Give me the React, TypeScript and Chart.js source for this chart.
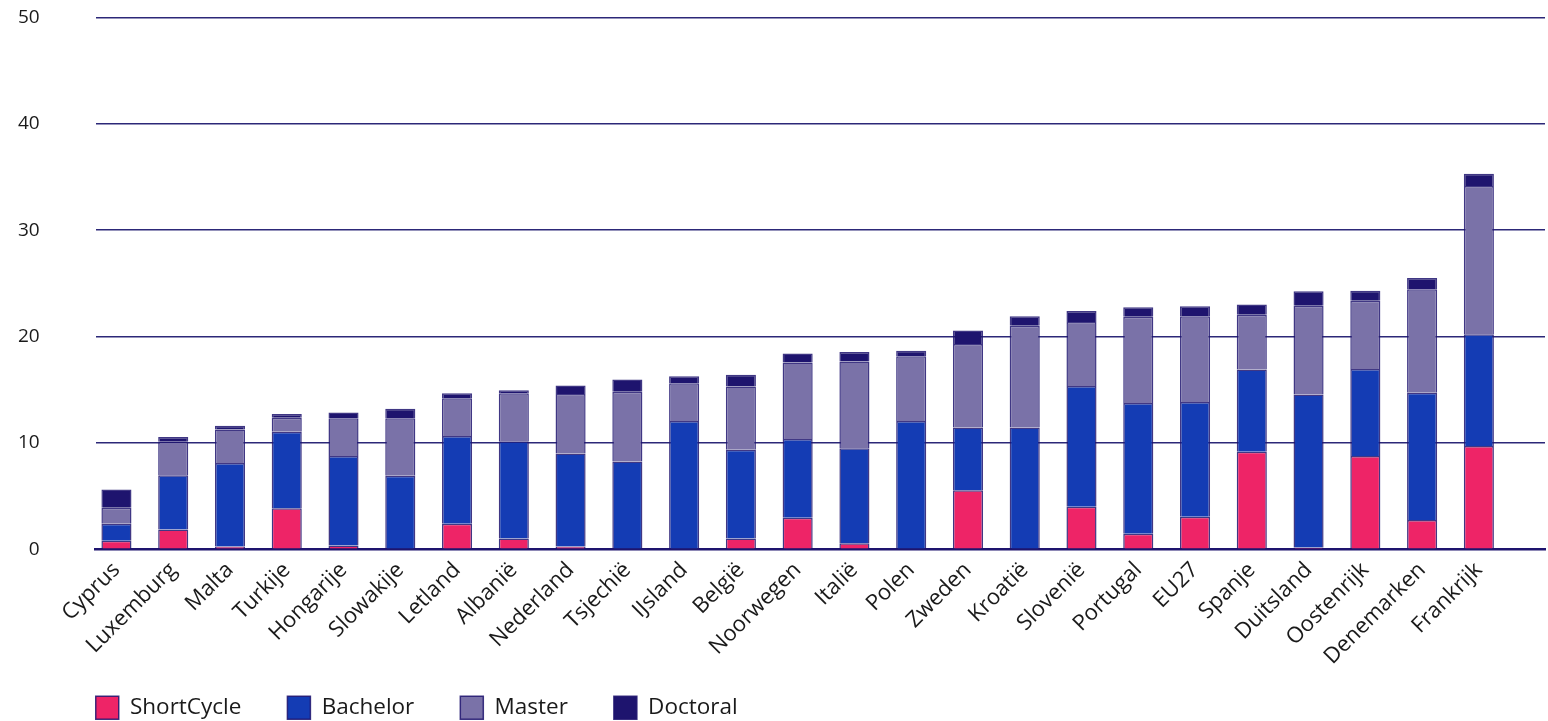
import React, { useEffect, useRef } from "react";
import { Chart, registerables } from "chart.js";

Chart.register(...registerables);

const categories = [
  "Cyprus", "Luxemburg", "Malta", "Turkije", "Hongarije", "Slowakije", "Letland",
  "Albanië", "Nederland", "Tsjechië", "IJsland", "België", "Noorwegen", "Italië",
  "Polen", "Zweden", "Kroatië", "Slovenië", "Portugal", "EU27", "Spanje",
  "Duitsland", "Oostenrijk", "Denemarken", "Frankrijk",
];

const shortCycle = [0.8, 1.85, 0.25, 3.85, 0.35, 0, 2.4, 1.0, 0.25, 0, 0, 1.0, 2.95, 0.55, 0, 5.55, 0, 4.0, 1.45, 3.05, 9.15, 0.15, 8.75, 2.75, 9.7];
const bachelor = [1.6, 5.1, 7.85, 7.2, 8.4, 6.9, 8.25, 9.15, 8.75, 8.25, 12.05, 8.35, 7.4, 8.95, 12.05, 5.9, 11.45, 11.35, 12.3, 10.8, 7.75, 14.4, 8.2, 11.95, 10.5];
const master = [1.5, 3.15, 3.15, 1.3, 3.55, 5.4, 3.55, 4.5, 5.6, 6.55, 3.55, 5.95, 7.2, 8.15, 6.1, 7.85, 9.55, 6.0, 8.1, 8.05, 5.15, 8.35, 6.4, 9.75, 13.95];
const doctoral = [1.7, 0.45, 0.35, 0.35, 0.55, 0.9, 0.45, 0.3, 0.8, 1.15, 0.65, 1.1, 0.85, 0.9, 0.5, 1.25, 0.9, 1.05, 0.9, 0.95, 0.95, 1.35, 0.95, 1.05, 1.15];

const yTicks = [0, 10, 20, 30, 40, 50];

const FONT = "'Open Sans', sans-serif";

// Puts the legend's first box under the plot's left edge and sets its gap below the axis.
const legendPlacement = {
  id: "legendPlacement",
  afterLayout(chart: any) {
    const lg = chart.legend;
    if (!lg) return;
    const pad = lg.options.labels.padding;
    lg.left = chart.chartArea.left - pad;
    lg.top = chart.chartArea.bottom + 101;
  },
};

export default function App() {
  const ref = useRef<HTMLCanvasElement | null>(null);

  useEffect(() => {
    if (!ref.current) return;
    const toPts = (arr: number[]) => arr.map((v, i) => ({ x: i, y: v }));
    const mk = (label: string, data: number[], color: string) => ({
      label,
      data: toPts(data),
      backgroundColor: color,
      borderColor: "rgba(30,20,110,0.85)",
      borderWidth: 1.5,
      barPercentage: 0.53,
      categoryPercentage: 1,
    });
    const chart = new Chart(ref.current, {
      type: "bar",
      data: {
        datasets: [
          mk("ShortCycle", shortCycle, "#EE2467"),
          mk("Bachelor", bachelor, "#143CB4"),
          mk("Master", master, "#7A72A8"),
          mk("Doctoral", doctoral, "#1E146E"),
        ],
      },
      plugins: [legendPlacement],
      options: {
        responsive: false,
        animation: false,
        layout: { padding: { left: 12, right: 3, top: 17, bottom: 0 } },
        plugins: {
          tooltip: { enabled: false },
          legend: {
            position: "bottom",
            align: "start",
            labels: {
              boxWidth: 23,
              boxHeight: 23,
              padding: 46,
              color: "#1a1a1a",
              font: { family: FONT, size: 22.5 },
            },
          },
        },
        scales: {
          x: {
            type: "linear",
            stacked: true,
            offset: false,
            min: -0.365,
            max: 25.165,
            grid: { display: false, drawTicks: false },
            border: { display: true, color: "#1E146E", width: 2.5 },
            afterBuildTicks: (scale: any) => {
              scale.ticks = categories.map((_, i) => ({ value: i }));
            },
            ticks: {
              autoSkip: false,
              maxRotation: 45,
              minRotation: 45,
              padding: 8,
              color: "#1a1a1a",
              font: { family: FONT, size: 22 },
              callback: (value: any) => categories[Math.round(Number(value))] ?? "",
            },
          },
          y: {
            stacked: true,
            min: 0,
            max: 50,
            afterBuildTicks: (scale: any) => {
              scale.ticks = yTicks.map((v) => ({ value: v }));
            },
            grid: {
              color: "#2c2878",
              lineWidth: 1.5,
              drawTicks: true,
              tickLength: 50,
              tickColor: "rgba(0,0,0,0)",
            },
            border: { display: false },
            ticks: {
              padding: 6,
              color: "#1a1a1a",
              font: { family: FONT, size: 19 },
            },
          },
        },
      },
    } as any);
    return () => chart.destroy();
  }, []);

  return (
    <div style={{ position: "fixed", left: 0, top: 0, width: 1548, height: 721, overflow: "hidden", background: "#fff" }}>
      <canvas ref={ref} width={1548} height={757} />
    </div>
  );
}
